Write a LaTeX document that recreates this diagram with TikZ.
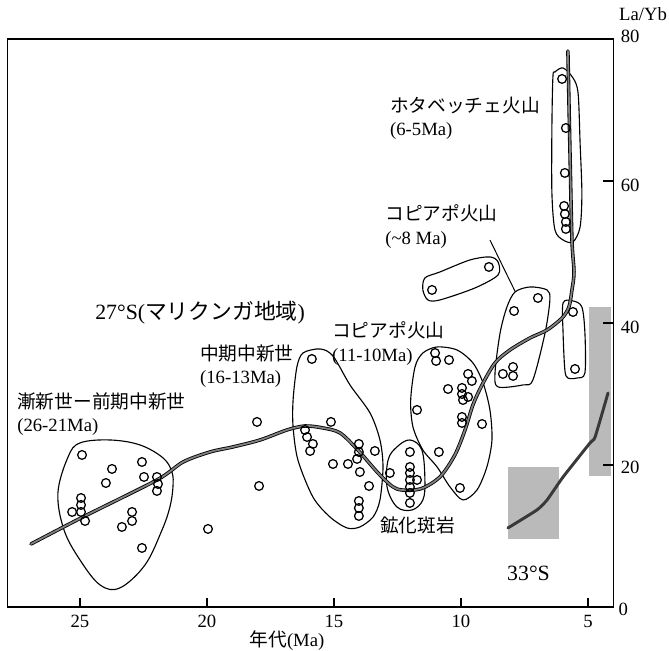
\documentclass[tikz,border=0pt]{standalone}
\usepackage{fontspec}
\setmainfont{Liberation Serif}
\newfontfamily\jp{Noto Sans CJK JP}
\usepackage{tikz}
\usepackage{xcolor}
\tikzstyle{blob} = [draw=black, line width=0.8pt]
\tikzstyle{pt} = [draw=black, line width=0.9pt]
\tikzstyle{trend} = [draw=black, line width=0.6pt, double=black!50, double distance=1.3pt, line cap=round, line join=round]
\tikzstyle{band} = [fill=black!27, draw=none]
\tikzstyle{lbl} = [anchor=west, inner sep=0pt, align=left, font=\fontsize{13.3}{16.5}\selectfont]
\tikzstyle{ticklbl} = [inner sep=0pt, font=\fontsize{13.3}{16}\selectfont]

\begin{document}
\begin{tikzpicture}[x=-0.635cm, y=0.1775cm]
\useasboundingbox (28.15,85.49) rectangle (1.81,-6.20);

% Grey bands and 33S curve
\fill[band] (8.15,19.72) rectangle (6.14,9.58);
\fill[band] (4.96,42.25) rectangle (4.09,18.45);
\draw[gray!45!black, line width=2.1pt, line cap=round] plot[smooth, tension=0.3] coordinates {(8.15,11.13) (7.01,13.66) (6.61,15.07) (5.98,18.31) (4.92,23.10) (4.72,23.94) (4.21,30.14)};

% Frame and ticks
\draw[line width=0.9pt] (27.85,80) rectangle (4.0,0);
\foreach \t in {25,20,15,10,5} {
  \draw[line width=0.8pt] (\t,0) -- ++(0,1.3);
  \node (xl\t) [ticklbl] at (\t,-2.1) {\t};
}
\foreach \v in {60,40,20} \draw[line width=0.8pt] (4.0,\v) -- ++(0.39,0);
\node (yl80) [ticklbl, anchor=west] at (3.72,80.3) {80};
\node (yl60) [ticklbl, anchor=west] at (3.72,59.4) {60};
\node (yl40) [ticklbl, anchor=west] at (3.72,39.4) {40};
\node (yl20) [ticklbl, anchor=west] at (3.72,19.6) {20};
\node (yl0) [ticklbl, anchor=west] at (3.80,-0.4) {0};
\node (ytitle) [ticklbl] at (2.83,83.5) {La/Yb};
\node (xtitle) [ticklbl] at (16.85,-4.79) {{\jp 年代}(Ma)};

% Groups
\draw[blob] plot[smooth cycle, tension=0.6] coordinates {(25.87,16.06) (25.47,21.13) (25.0,23.10) (23.82,23.52) (22.64,22.82) (21.73,20.99) (21.38,19.01) (21.34,16.90) (21.46,14.08) (21.77,10.85) (22.44,5.92) (23.43,2.68) (24.21,3.10) (25.0,6.62) (25.63,10.85)}; % Oligocene
\draw[blob] plot[smooth cycle, tension=0.5] coordinates {(16.22,35.77) (15.55,36.34) (15.04,35.35) (14.37,31.27) (13.58,27.32) (13.19,23.52) (13.07,19.72) (13.19,15.07) (13.46,12.68) (13.98,11.27) (14.49,11.13) (15.16,12.68) (15.83,15.49) (16.42,20.70) (16.61,25.35) (16.61,29.15) (16.46,33.80)}; % middle Miocene
\draw[blob] plot[smooth cycle, tension=0.6] coordinates {(12.01,23.52) (11.54,22.11) (11.42,17.89) (11.50,15.07) (11.93,13.66) (12.52,14.08) (12.91,16.90) (12.87,20.70) (12.52,22.54)}; % porphyry
\draw[blob] plot[smooth cycle, tension=0.5] coordinates {(11.81,33.80) (11.50,35.77) (10.94,36.62) (10.16,36.20) (9.53,34.37) (9.13,31.55) (8.86,27.75) (8.78,23.52) (8.98,19.72) (9.37,16.48) (9.92,15.07) (10.43,16.90) (10.94,19.72) (11.50,22.11) (11.89,25.35) (11.98,29.15)}; % Copiapo 11-10
\draw[blob] plot[smooth cycle, tension=0.5] coordinates {(11.42,46.34) (10.83,47.18) (9.65,48.87) (8.86,49.30) (8.54,48.59) (8.54,46.76) (9.45,44.93) (10.83,43.24) (11.30,43.24) (11.50,44.65)}; % pair
\draw[blob] plot[smooth cycle, tension=0.5] coordinates {(7.87,44.37) (7.28,45.07) (6.61,44.65) (6.50,43.24) (6.69,38.59) (7.17,31.97) (7.56,31.27) (8.54,30.99) (8.66,32.96) (8.46,38.59) (8.19,42.25)}; % Copiapo 8
\draw[blob] plot[smooth cycle, tension=0.5] coordinates {(5.98,42.82) (5.59,43.10) (5.24,42.25) (5.12,38.59) (5.12,32.96) (5.43,32.25) (5.79,32.25) (5.91,33.38) (5.98,38.59)};
\draw[blob] plot[smooth cycle, tension=0.5] coordinates {(6.30,75.35) (5.98,75.92) (5.59,74.51) (5.39,72.39) (5.31,65.35) (5.24,58.31) (5.31,53.52) (5.59,51.41) (5.98,51.69) (6.30,53.10) (6.42,58.31) (6.42,67.61) (6.38,74.65)}; % Ojos del Salado

% Trend 27S
\draw[trend] plot[smooth, tension=0.5] coordinates {(26.93,8.87) (24.88,12.68) (21.97,17.89) (20.94,20.42) (19.88,21.83) (18.98,22.54) (17.91,23.52) (16.85,24.93) (16.14,25.49) (15.43,25.21) (14.76,24.51) (14.06,22.11) (13.19,18.59) (12.52,16.62) (11.61,16.62) (10.83,18.31) (10.24,21.41) (9.84,24.93) (9.53,28.45) (9.17,31.27) (8.66,34.37) (8.07,36.20) (7.28,37.89) (6.61,39.01) (6.02,40.70) (5.75,42.25) (5.63,44.65) (5.55,47.18) (5.63,51.69) (5.71,64.37) (5.79,78.3)};

% Samples
\foreach \a/\b in {24.92/21.41, 23.74/19.44, 23.98/17.46, 22.56/20.42, 22.48/18.31, 21.97/18.31, 21.93/17.32, 21.97/16.34, 24.96/15.35, 24.96/14.37, 25.31/13.38, 24.96/13.38, 24.80/12.11, 22.95/13.38, 22.95/12.11, 23.35/11.27, 22.56/8.31,
  18.03/26.06, 17.95/17.04, 19.96/10.99,
  15.87/34.93, 15.12/26.06, 16.14/24.93, 16.06/23.94, 15.83/22.96, 15.94/21.97, 15.04/20.14, 14.45/20.14, 14.02/22.96, 14.02/21.83, 14.09/20.85, 13.98/19.01, 13.39/21.97, 13.62/17.04, 14.02/14.93, 14.02/13.94, 14.02/12.82,
  12.01/21.83, 12.01/19.72, 12.01/18.87, 12.01/17.89, 11.73/17.89, 12.01/16.90, 12.01/16.06, 12.01/14.65, 12.80/18.87,
  11.02/35.77, 10.98/34.65, 10.47/34.79, 9.72/32.82, 9.57/31.83, 10.51/30.70, 9.96/30.85, 9.96/30.00, 9.92/29.15, 9.72/29.58, 11.73/27.75, 9.96/26.76, 9.96/25.92, 9.17/25.77, 10.87/21.83, 10.04/16.76,
  11.14/44.65, 8.90/47.89,
  6.97/43.52, 7.91/41.69, 8.35/32.82, 7.95/33.80, 7.95/32.54,
  5.59/41.55, 5.51/33.52,
  6.02/74.37, 5.87/67.46, 5.91/61.13, 5.94/56.48, 5.91/55.35, 5.87/54.23, 5.87/53.24}
  \draw[pt] (\a,\b) circle[radius=3.1pt];

% Labels
\node (ojos) [lbl] at (12.80,68.80) {{\jp ホタベッチェ火山}\\(6-5Ma)};
\node (copiapoB) [lbl] at (12.99,53.59) {{\jp コピアポ火山}\\(\textasciitilde 8 Ma)};
\node (copiapoA) [lbl] at (15.08,37.11) {{\jp コピアポ火山}\\(11-10Ma)};
\node (midmio) [lbl] at (20.28,33.94) {{\jp 中期中新世}\\(16-13Ma)};
\node (oligo) [lbl] at (27.48,27.18) {{\jp 漸新世ー前期中新世}\\(26-21Ma)};
\node (region) [lbl, font=\fontsize{15.5}{19}\selectfont] at (24.41,41.41) {27°S({\jp マリクンガ地域})};
\node (porph) [lbl] at (13.19,11.55) {{\jp 鉱化斑岩}};
\node (south) [lbl, font=\fontsize{15.5}{18}\selectfont] at (8.19,4.79) {33°S};

% Leader
\coordinate (ldA) at (8.86,51.69);
\coordinate (ldB) at (7.87,44.45);
\draw[line width=0.7pt] (ldA) -- (ldB);

\end{tikzpicture}
\end{document}
